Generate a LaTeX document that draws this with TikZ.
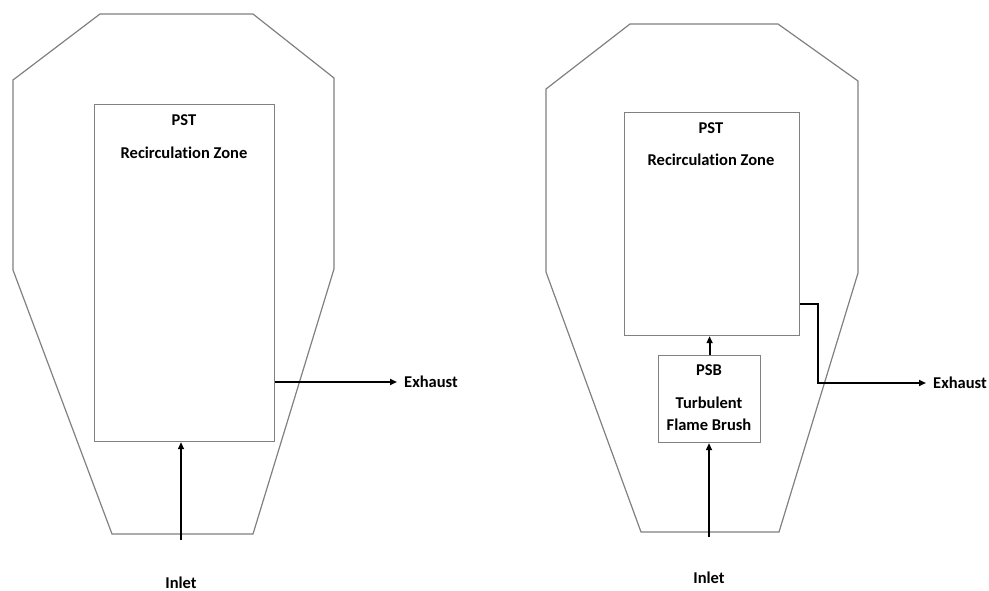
\documentclass[tikz,border=0pt]{standalone}
\usepackage{fontspec}
\setmainfont{Carlito}[Ligatures=NoCommon]
\usetikzlibrary{arrows.meta}
\begin{document}
\begin{tikzpicture}[x=1pt,y=-1pt,
  outline/.style={draw=black!50, line width=1.2pt, line join=miter},
  zonebox/.style={draw=black!50, line width=1.2pt, inner sep=0pt, anchor=north west},
  lbl/.style={font=\bfseries\fontsize{16.5}{22}\selectfont, inner sep=0pt},
  flow/.style={draw=black, line width=2.2pt, -{Triangle[length=7pt,width=6pt]}}]
\useasboundingbox (0,0) rectangle (989,591);
% left chamber
\draw[outline] (100,14) -- (253,14) -- (334,78) -- (334,269) -- (253,534) -- (112,534) -- (13,270) -- (13,80) -- cycle;
\node[zonebox, minimum width=180pt, minimum height=337pt] (L) at (94,104) {};
\node[lbl] (Lpst) at (184,120) {PST};
\node[lbl] (Lrz) at (184,153) {Recirculation Zone};
\coordinate (Lin) at (181,540);
\node[lbl, anchor=west] (Lex) at (404,382) {Exhaust};
\node[lbl] (Linl) at (181,583) {Inlet};
\draw[flow] (Lin) -- (Lin |- L.south);
\draw[flow, shorten >=7pt] (L.east |- Lex) -- (Lex.west);
% right chamber
\draw[outline] (630,24) -- (778,24) -- (858,81) -- (858,273) -- (779,532) -- (641,532) -- (546,272) -- (546,89) -- cycle;
\node[zonebox, minimum width=175pt, minimum height=223pt] (R) at (624,112) {};
\node[lbl] (Rpst) at (711,128) {PST};
\node[lbl] (Rrz) at (711,160) {Recirculation Zone};
\node[zonebox, minimum width=102pt, minimum height=87pt] (B) at (658,355) {};
\node[lbl] (Bpsb) at (709,370) {PSB};
\node[lbl, align=center] (Btfb) at (709,414) {Turbulent\\Flame Brush};
\coordinate (Rin) at (709,537);
\node[lbl, anchor=west] (Rex) at (933,383) {Exhaust};
\node[lbl] (Rinl) at (709,578) {Inlet};
\coordinate (Rturn) at (818,304);
\draw[flow] (Rin) -- (Rin |- B.south);
\draw[flow] (B.north) -- (B.north |- R.south);
\draw[flow, shorten >=7pt] (R.east |- Rturn) -- (Rturn) -- (Rturn |- Rex) -- (Rex.west);
\end{tikzpicture}
\end{document}
